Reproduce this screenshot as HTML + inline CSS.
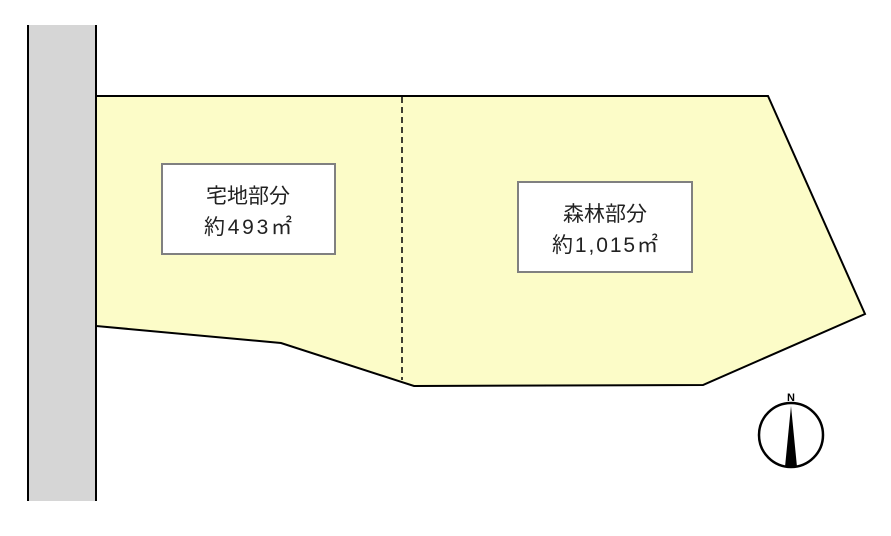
<!DOCTYPE html>
<html><head><meta charset="utf-8"><style>body{margin:0;background:#fff}svg{display:block}</style></head><body>
<svg width="891" height="536" xmlns="http://www.w3.org/2000/svg">
<rect x="28" y="25" width="68" height="476" fill="#d6d6d6"/>
<line x1="28" y1="25" x2="28" y2="501" stroke="#000" stroke-width="2"/>
<line x1="96" y1="25" x2="96" y2="501" stroke="#000" stroke-width="2"/>
<polygon points="96,96 768,96 865,314 703,385 414,386 281,343 96,326" fill="#fcfcc8" stroke="#000" stroke-width="2"/>
<line x1="402" y1="97" x2="402" y2="380" stroke="#000" stroke-width="1.5" stroke-dasharray="6,4"/>
<rect x="162" y="164" width="173" height="90" fill="#fff" stroke="#808080" stroke-width="2"/>
<rect x="518" y="182" width="174" height="90" fill="#fff" stroke="#808080" stroke-width="2"/>
<g font-family="Liberation Sans, Noto Sans CJK JP, sans-serif" font-size="21" fill="#222" text-anchor="middle">
<text x="248" y="203">宅地部分</text>
<text x="248" y="234" textLength="88">約493㎡</text>
<text x="605" y="221">森林部分</text>
<text x="605" y="252" textLength="106">約1,015㎡</text>
</g>
<circle cx="791" cy="435" r="32" fill="none" stroke="#000" stroke-width="2.5"/>
<polygon points="791,406 785,467 797,467" fill="#000"/>
<text x="791" y="401" font-family="Liberation Sans, sans-serif" font-weight="bold" font-size="11" text-anchor="middle">N</text>
</svg>
</body></html>
